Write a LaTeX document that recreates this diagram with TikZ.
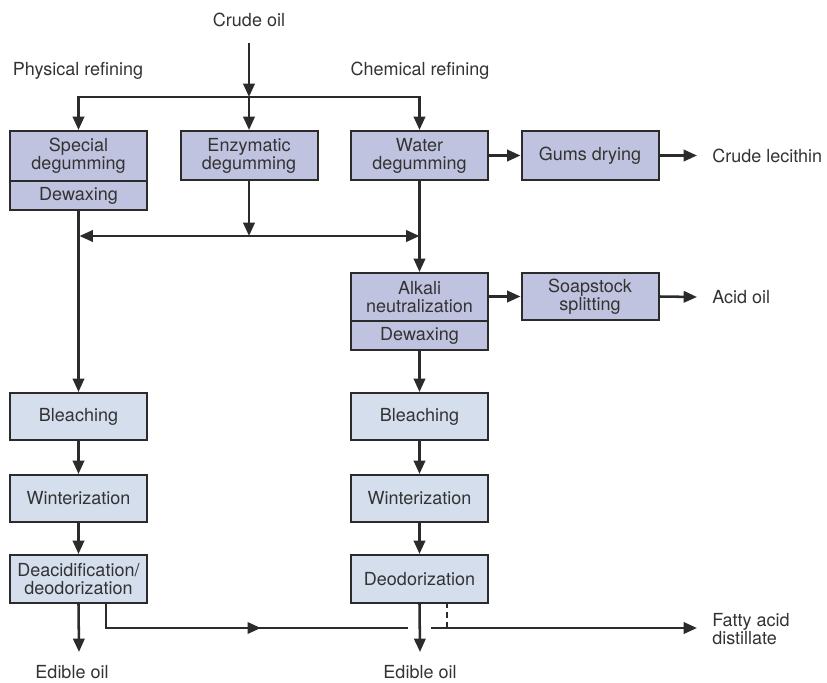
\documentclass[tikz,border=0pt]{standalone}
\usepackage{fontspec}
\setmainfont{TeX Gyre Heros}
\usetikzlibrary{arrows.meta,decorations.markings}
\definecolor{boxdark}{HTML}{BFC3DF}
\definecolor{boxlight}{HTML}{D5DEEC}
\definecolor{edge}{HTML}{2B2B2B}
\begin{document}
\begin{tikzpicture}[x=0.75pt,y=-0.75pt,
  font=\fontsize{13.5}{13.5}\selectfont,
  box/.style={draw=edge,line width=1.5pt,minimum width=102.75pt,align=center,inner sep=0pt,text=black!80},
  dbox/.style={box,fill=boxdark},
  lbox/.style={box,fill=boxlight},
  tip/.tip={Triangle[length=10pt,width=8.5pt]},
  flow/.style={draw=edge,line width=1.9pt,-tip},
  plain/.style={draw=edge,line width=1.9pt},
  midarrow/.style={plain,decoration={markings,mark=at position 0.55 with {\arrow{tip}}},postaction={decorate}},
  lbl/.style={text=black!80,inner sep=0pt}]
\useasboundingbox (0,0) rectangle (827,682);

% labels
\node[lbl] (crude) at (249,20) {Crude oil};
\node[lbl] (phys) at (78,71) {Physical refining};
\node[lbl] (chem) at (420,71) {Chemical refining};
\node[lbl,anchor=west] (lec) at (712,155.5) {Crude lecithin};
\node[lbl,anchor=west] (acid) at (712,297) {Acid oil};
\node[lbl,anchor=west,align=left] (fad) at (712,629) {Fatty acid\\distillate};
\node[lbl] (ed1) at (72,672) {Edible oil};
\node[lbl] (ed2) at (420,672) {Edible oil};

% boxes
\node[dbox,minimum height=37.5pt] (sd) at (78.5,156) {Special\\degumming};
\node[dbox,minimum height=21.75pt] (sdw) at (78.5,195.5) {Dewaxing};
\node[dbox,minimum height=36.75pt] (enz) at (249,155.5) {Enzymatic\\degumming};
\node[dbox,minimum height=36.75pt] (wd) at (419.5,155.5) {Water\\degumming};
\node[dbox,minimum height=36.75pt] (gd) at (590,155.5) {Gums drying};
\node[dbox,minimum height=36pt] (an) at (419.5,297) {Alkali\\neutralization};
\node[dbox,minimum height=21.75pt] (anw) at (419.5,335.5) {Dewaxing};
\node[dbox,minimum height=35.25pt] (ss) at (590,296.5) {Soapstock\\splitting};
\node[lbox,minimum height=35.25pt] (bl1) at (78.5,416.5) {Bleaching};
\node[lbox,minimum height=35.25pt] (bl2) at (419.5,416.5) {Bleaching};
\node[lbox,minimum height=35.25pt] (wi1) at (78.5,498.5) {Winterization};
\node[lbox,minimum height=35.25pt] (wi2) at (419.5,498.5) {Winterization};
\node[lbox,minimum height=36pt] (da) at (78.5,579) {Deacidification/\\deodorization};
\node[lbox,minimum height=36pt] (deo) at (419.5,579) {Deodorization};

% junctions
\coordinate (cs) at (249,43);
\coordinate (j1) at (249,97);
\coordinate (j2) at (249,236);
\coordinate (jl) at (79.5,236);
\coordinate (jr) at (419.5,236);
\coordinate (lecE) at (697,155.5);
\coordinate (acidE) at (697,297);
\coordinate (daB) at (106,603);
\coordinate (hl) at (408,628);
\coordinate (hr) at (431,628);
\coordinate (fadE) at (697,628);
\coordinate (dashT) at (447,603);
\coordinate (dashB) at (447,628);
\coordinate (e1) at (79,652);
\coordinate (e2) at (420,652);

% connectors
\draw[flow] (cs) -- (j1);
\draw[flow] (j1) -| (sd.north);
\draw[flow] (j1) -- (enz.north);
\draw[flow] (j1) -| (wd.north);
\draw[flow] (enz.south) -- (j2);
\draw[flow] (j2) -- (jl);
\draw[flow] (j2) -- (jr);
\draw[flow] (sdw.south) -- (bl1.north);
\draw[flow] (wd.south) -- (an.north);
\draw[flow] (wd.east) -- (gd.west);
\draw[flow] (gd.east) -- (lecE);
\draw[flow] (an.east |- ss.west) -- (ss.west);
\draw[flow] (ss.east) -- (acidE);
\draw[flow] (anw.south) -- (bl2.north);
\draw[flow] (bl1.south) -- (wi1.north);
\draw[flow] (bl2.south) -- (wi2.north);
\draw[flow] (wi1.south) -- (da.north);
\draw[flow] (wi2.south) -- (deo.north);
\draw[flow] (da.south) -- (e1);
\draw[flow] (deo.south) -- (e2);
\draw[midarrow] (daB) |- (hl);
\draw[flow] (hr) -- (fadE);
\draw[plain,dash pattern=on 4pt off 3pt] (dashT) -- (dashB);
\end{tikzpicture}
\end{document}
